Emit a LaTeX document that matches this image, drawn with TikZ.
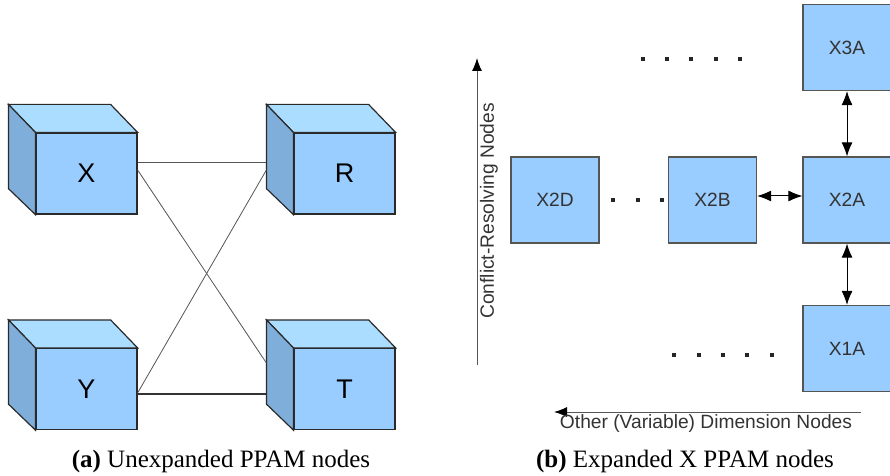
\documentclass[tikz,border=0pt]{standalone}
\usepackage{fontspec}
\setmainfont{Liberation Serif}
\setsansfont{Liberation Sans}
\usetikzlibrary{arrows.meta,calc}
\definecolor{frontc}{HTML}{99CCFF}
\definecolor{topc}{HTML}{AADDFF}
\definecolor{sidec}{HTML}{80AEDA}
\definecolor{edgec}{HTML}{2A2A2A}
\definecolor{txtc}{HTML}{333333}
\definecolor{linec}{HTML}{555555}
\newcommand\ppamcube[4]{%
  \node[cubeface] (#1) at (#2,#3) {#4};
  \filldraw[cubeedge, fill=topc] (#1.north west) -- ([shift={(-27,-28)}]#1.north west) -- ([shift={(-27,-28)}]#1.north east) -- (#1.north east) -- cycle;
  \filldraw[cubeedge, fill=sidec] (#1.north west) -- ([shift={(-27,-28)}]#1.north west) -- ([shift={(-27,-26)}]#1.south west) -- (#1.south west) -- cycle;
}
\tikzset{
  cubeface/.style={rectangle, draw=edgec, fill=frontc, line width=0.6pt, minimum width=50.5pt, minimum height=40.5pt, inner sep=0pt, font=\sffamily\fontsize{13.5}{16}\selectfont},
  cubeedge/.style={draw=edgec, line width=0.6pt, line join=miter},
  xbox/.style={rectangle, draw=linec, fill=frontc, line width=0.6pt, minimum width=44pt, minimum height=43pt, inner sep=0pt, text=txtc, font=\sffamily\fontsize{9.6}{11}\selectfont},
  link/.style={draw=linec, line width=0.4pt},
  dbl/.style={draw=black, line width=0.5pt, {Latex[length=7pt,width=5.5pt]}-{Latex[length=7pt,width=5.5pt]}},
  axis/.style={draw=linec, line width=0.5pt, -{Latex[length=6.5pt,width=5pt,color=black]}},
  axlabel/.style={text=txtc, font=\sffamily\fontsize{9.6}{11}\selectfont, inner sep=0pt},
  dotsq/.style={fill=black!85, minimum size=2pt, inner sep=0pt, rectangle},
  caption/.style={font=\fontsize{12.5}{15}\selectfont, inner sep=0pt}
}
\begin{document}
\begin{tikzpicture}[x=0.5pt, y=-0.5pt]
\useasboundingbox (0,0) rectangle (890,476);
% (a) cubes
\ppamcube{X}{86.5}{173.5}{X}
\ppamcube{R}{344.5}{173.5}{R}
\ppamcube{Y}{86.5}{389}{Y}
\ppamcube{T}{344.5}{389}{T}
\draw[link] ([yshift=5.75pt]X.east) -- ([xshift=-13.5pt,yshift=5.75pt]R.west);
\draw[link] ([yshift=1.75pt]X.east) -- ([xshift=-13.5pt,yshift=13pt]T.west);
\draw[link] ([yshift=-2pt]Y.east) -- ([xshift=-13.5pt,yshift=1.75pt]R.west);
\draw[link, line width=0.8pt, draw=black!80] ([yshift=-2.5pt]Y.east) -- ([xshift=-13.5pt,yshift=-2.5pt]T.west);
% (b) boxes
\node[xbox] (X3A) at (847,47.5) {X3A};
\node[xbox] (X2D) at (555,200) {X2D};
\node[xbox] (X2B) at (712.5,200) {X2B};
\node[xbox] (X2A) at (847,200) {X2A};
\node[xbox] (X1A) at (847,348.5) {X1A};
\draw[dbl] (X3A.south) -- (X2A.north);
\draw[dbl] ([yshift=2pt]X2B.east) -- ([yshift=2pt]X2A.west);
\draw[dbl] (X2A.south) -- (X1A.north);
% dots
\foreach \x in {643,667,691,716,740} \node[dotsq] (dt\x) at (\x,59) {};
\foreach \x in {613,638,662} \node[dotsq] (dm\x) at (\x,200) {};
\foreach \x in {674,699,723,747,772} \node[dotsq] (db\x) at (\x,355) {};
% axes
\coordinate (va0) at (477,365);
\coordinate (va1) at (477,58);
\draw[axis] (va0) -- (va1);
\coordinate (ha0) at (861,412);
\coordinate (ha1) at (554,412);
\draw[axis] (ha0) -- (ha1);
\node[axlabel, rotate=90] (vlab) at (489,211) {Conflict-Resolving Nodes};
\node[axlabel] (hlab) at (706,424) {Other (Variable) Dimension Nodes};
% captions
\node[caption] (capa) at (221,461) {\textbf{(a)} Unexpanded PPAM nodes};
\node[caption] (capb) at (685,461) {\textbf{(b)} Expanded X PPAM nodes};
\end{tikzpicture}
\end{document}
